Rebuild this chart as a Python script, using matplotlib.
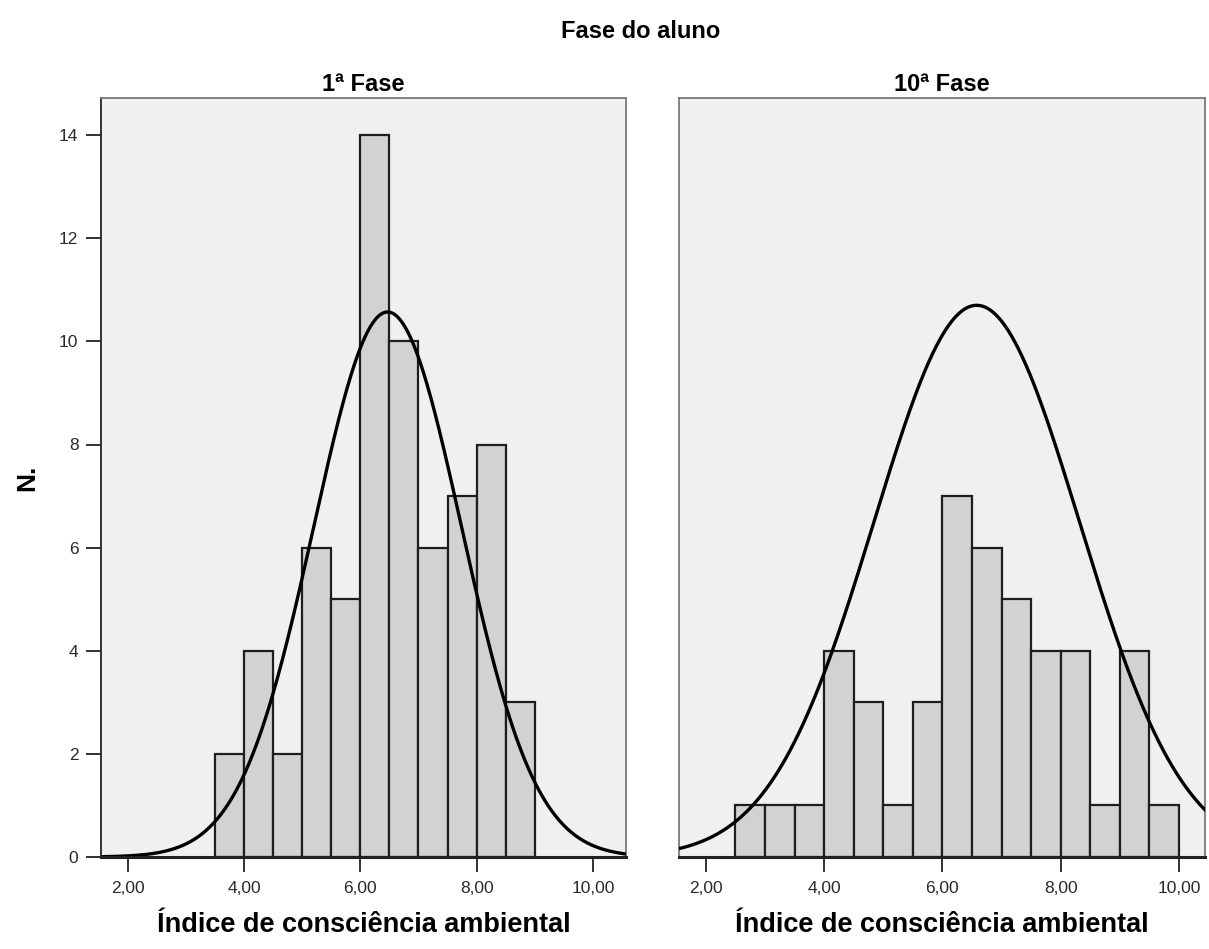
import numpy as np
import matplotlib
matplotlib.use('Agg')
import matplotlib.pyplot as plt

plt.rcParams['font.family'] = ['Liberation Sans', 'DejaVu Sans']

# Contagens por classe (largura 0,5)
bin_width = 0.5
fase1_start = 3.5
fase1_counts = [2, 4, 2, 6, 5, 14, 10, 6, 7, 8, 3]
fase10_start = 2.5
fase10_counts = [1, 1, 1, 4, 3, 1, 3, 7, 6, 5, 4, 4, 1, 4, 1]

# Curva normal ajustada: media, desvio, altura do pico
fase1_curve = (6.47, 1.27, 10.57)
fase10_curve = (6.58, 1.74, 10.70)

panel_titles = ['1ª Fase', '10ª Fase']
x_ticks = [2, 4, 6, 8, 10]
x_tick_labels = ['2,00', '4,00', '6,00', '8,00', '10,00']
y_ticks = [0, 2, 4, 6, 8, 10, 12, 14]

fig = plt.figure(figsize=(12.09, 9.49), dpi=100)
W, H = 1209, 949
top, bottom = 98, 857
ax1 = fig.add_axes([100.7 / W, 1 - bottom / H, 525.3 / W, (bottom - top) / H])
ax2 = fig.add_axes([679.3 / W, 1 - bottom / H, 525.7 / W, (bottom - top) / H])

panels = [
    (ax1, fase1_start, fase1_counts, fase1_curve, (1.535, 10.57)),
    (ax2, fase10_start, fase10_counts, fase10_curve, (1.552, 10.44)),
]

for i, (ax, start, counts, curve, xlim) in enumerate(panels):
    ax.set_facecolor('#f0f0f0')
    lefts = start + bin_width * np.arange(len(counts))
    ax.bar(lefts, counts, width=bin_width, align='edge', color='#d2d2d2',
           edgecolor='#1e1e1e', linewidth=1.6, zorder=2)

    mean, sd, peak = curve
    xs = np.linspace(xlim[0], xlim[1], 400)
    ys = peak * np.exp(-(xs - mean) ** 2 / (2 * sd ** 2))
    ax.plot(xs, ys, color='black', linewidth=2.4, zorder=3)

    ax.set_xlim(*xlim)
    ax.set_ylim(0, 14.72)
    ax.set_xticks(x_ticks)
    ax.set_xticklabels(x_tick_labels)
    ax.tick_params(axis='x', length=11, width=1.3, color='#222222',
                   labelsize=12.5, labelcolor='#2a2a2a', pad=6)
    for s in ['top', 'right', 'left']:
        ax.spines[s].set_color('#7a7a7a')
        ax.spines[s].set_linewidth(1.3)
    ax.spines['bottom'].set_color('#222222')
    ax.spines['bottom'].set_linewidth(2.2)
    ax.spines['bottom'].set_zorder(4)
    ax.set_xlabel('Índice de consciência ambiental', fontsize=19.5,
                  fontweight='bold', labelpad=12)
    ax.set_title(panel_titles[i], fontsize=17, fontweight='bold', pad=5)

    if i == 0:
        ax.spines['left'].set_color('#222222')
        ax.set_yticks(y_ticks)
        ax.tick_params(axis='y', length=11, width=1.3, color='#222222',
                       labelsize=12.5, labelcolor='#2a2a2a', pad=5)
        ax.set_ylabel('N.', fontsize=19, fontweight='bold', labelpad=14)
    else:
        ax.set_yticks([])

fig.text(641 / W, 1 - 31 / H, 'Fase do aluno', fontsize=17,
         fontweight='bold', ha='center', va='center')

fig.savefig('out.png', dpi=100, facecolor='white')
